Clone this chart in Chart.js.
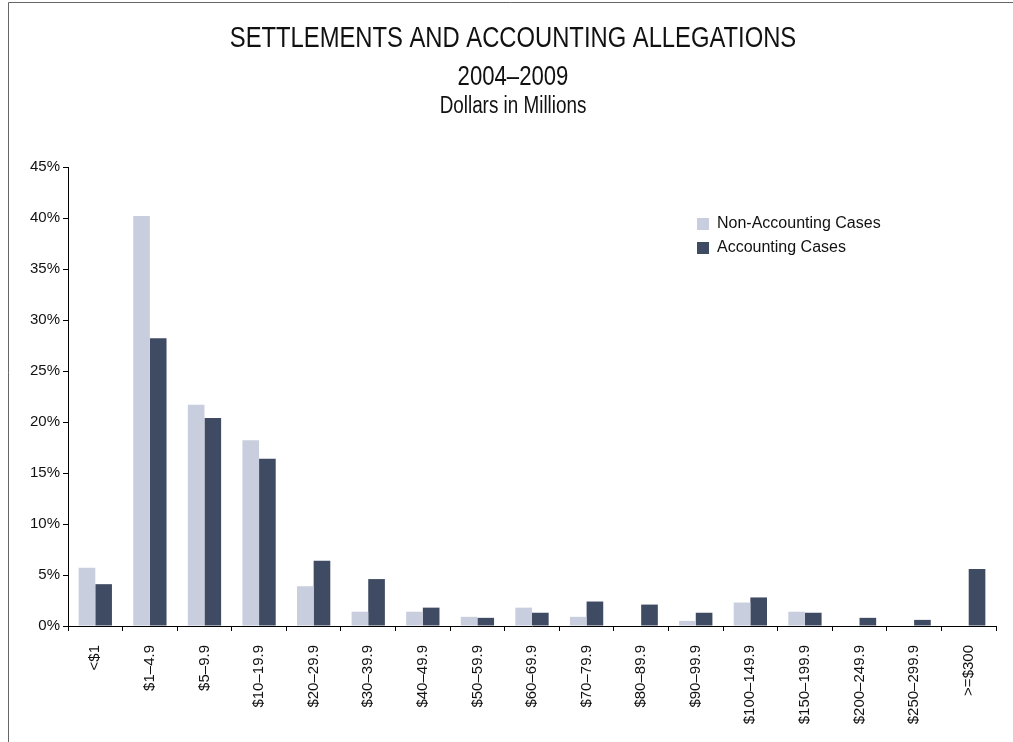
<!DOCTYPE html>
<html>
<head>
<meta charset="utf-8">
<script src="https://cdn.jsdelivr.net/npm/chart.js@4.4.1/dist/chart.umd.min.js"></script>
<style>
  html, body { margin: 0; padding: 0; background: #fff; }
  #wrap { width: 1013px; height: 742px; position: relative; }
</style>
</head>
<body>
<div id="wrap"><canvas id="chart"></canvas></div>
<script>
// settlement size buckets ($ millions)
const categories = ['<$1', '$1–4.9', '$5–9.9', '$10–19.9', '$20–29.9', '$30–39.9', '$40–49.9',
  '$50–59.9', '$60–69.9', '$70–79.9', '$80–89.9', '$90–99.9', '$100–149.9', '$150–199.9',
  '$200–249.9', '$250–299.9', '>=$300'];

// percent of cases in each bucket
const nonAccounting = [5.7, 40.2, 21.7, 18.2, 3.9, 1.4, 1.4, 0.9, 1.8, 0.9, 0, 0.5, 2.3, 1.4, 0, 0, 0];
const accounting = [4.1, 28.2, 20.4, 16.4, 6.4, 4.6, 1.8, 0.8, 1.3, 2.4, 2.1, 1.3, 2.8, 1.3, 0.8, 0.6, 5.6];

const yTicks = [0, 5, 10, 15, 20, 25, 30, 35, 40, 45];

const titleLines = [
  { text: 'SETTLEMENTS AND ACCOUNTING ALLEGATIONS', size: 29, baseline: 47 },
  { text: '2004–2009', size: 27, baseline: 85 },
  { text: 'Dollars in Millions', size: 23, baseline: 113 }
];

const FONT = '"Liberation Sans", Arial, sans-serif';

// frame round the picture (left + top edges) and the narrow-looking titles
const decorPlugin = {
  id: 'decor',
  beforeDraw(chart) {
    const ctx = chart.ctx;
    ctx.save();
    ctx.strokeStyle = '#666';
    ctx.lineWidth = 1;
    ctx.beginPath();
    ctx.moveTo(8.5, 742);
    ctx.lineTo(8.5, 2.5);
    ctx.lineTo(1013, 2.5);
    ctx.stroke();

    // no narrow font installed, so squeeze Liberation Sans sideways
    const squeeze = 0.82, cx = 513;
    ctx.fillStyle = '#111';
    ctx.textAlign = 'center';
    ctx.textBaseline = 'alphabetic';
    titleLines.forEach(l => {
      ctx.save();
      ctx.translate(cx, l.baseline);
      ctx.scale(squeeze, 1);
      ctx.font = l.size + 'px ' + FONT;
      ctx.fillText(l.text, 0, 0);
      ctx.restore();
    });
    ctx.restore();
  }
};

// move the legend into the upper right of the plot
const legendSpot = {
  id: 'legendSpot',
  afterLayout(chart) {
    const lg = chart.legend;
    if (!lg) return;
    const w = lg.right - lg.left, h = lg.bottom - lg.top;
    lg.left = 689; lg.top = 208;
    lg.right = lg.left + w; lg.bottom = lg.top + h;
  }
};

new Chart(document.getElementById('chart'), {
  type: 'bar',
  data: {
    labels: categories,
    datasets: [
      { label: 'Non-Accounting Cases', data: nonAccounting, backgroundColor: '#c8cedd' },
      { label: 'Accounting Cases', data: accounting, backgroundColor: '#3f4a63' }
    ]
  },
  options: {
    responsive: true,
    maintainAspectRatio: false,
    animation: false,
    categoryPercentage: 0.61,
    barPercentage: 1.0,
    layout: { padding: { left: 0, right: 17, top: 167, bottom: 0 } },
    plugins: {
      title: { display: false },
      legend: {
        position: 'chartArea',
        align: 'start',
        labels: {
          boxWidth: 12, boxHeight: 12, padding: 8,
          color: '#111',
          font: { family: FONT, size: 16 }
        }
      },
      tooltip: { enabled: false }
    },
    scales: {
      x: {
        grid: { drawOnChartArea: false, drawTicks: true, tickLength: 5, color: '#000', offset: true },
        border: { color: '#000', width: 1 },
        ticks: {
          color: '#111', font: { family: FONT, size: 15 },
          minRotation: 90, maxRotation: 90, autoSkip: false, padding: 14
        },
        afterFit(scale) { scale.height = 116; }
      },
      y: {
        min: 0, max: 45,
        afterBuildTicks(scale) { scale.ticks = yTicks.map(v => ({ value: v })); },
        grid: { drawOnChartArea: false, drawTicks: true, tickLength: 5, color: '#000' },
        border: { color: '#000', width: 1 },
        ticks: {
          color: '#111', font: { family: FONT, size: 15 }, padding: 3,
          callback: v => v + '%'
        },
        afterFit(scale) { scale.width = 68; }
      }
    }
  },
  plugins: [decorPlugin, legendSpot]
});
</script>
</body>
</html>
